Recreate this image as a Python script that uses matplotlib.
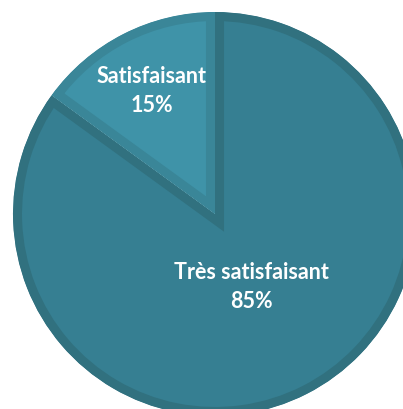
import matplotlib.pyplot as plt
import numpy as np

labels = ['Très satisfaisant', 'Satisfaisant']
values = [85, 15]
fill_colors = ['#367f92', '#3f93a8']
edge_colors = ['#31717f', '#3a8698']
label_dist = [0.40, 0.69]

W, H = 403, 410
fig = plt.figure(figsize=(W / 100, H / 100), dpi=100)
ax = fig.add_axes([0, 0, 1, 1])

cx, cy, r = 215, H - 215, 202

wedges, _ = ax.pie(values, startangle=90, counterclock=False, colors=fill_colors,
                   center=(cx, cy), radius=r, frame=True,
                   wedgeprops=dict(linewidth=13))
ax.set_xlim(0, W)
ax.set_ylim(0, H)
ax.set_aspect('equal')
ax.axis('off')

for w, ec, lab, v, d in zip(wedges, edge_colors, labels, values, label_dist):
    w.set_edgecolor(ec)
    w.set_clip_on(True)
    w.set_clip_path(w)   # keep only the inner half of the stroke
    mid = np.deg2rad((w.theta1 + w.theta2) / 2)
    x = cx + d * r * np.cos(mid)
    y = cy + d * r * np.sin(mid)
    ax.text(x, y, f"{lab}\n{v}%", ha='center', va='center', color='white',
            fontsize=15.5, fontweight='bold', family='Lato', linespacing=1.5)

fig.savefig('out.png', dpi=100)
